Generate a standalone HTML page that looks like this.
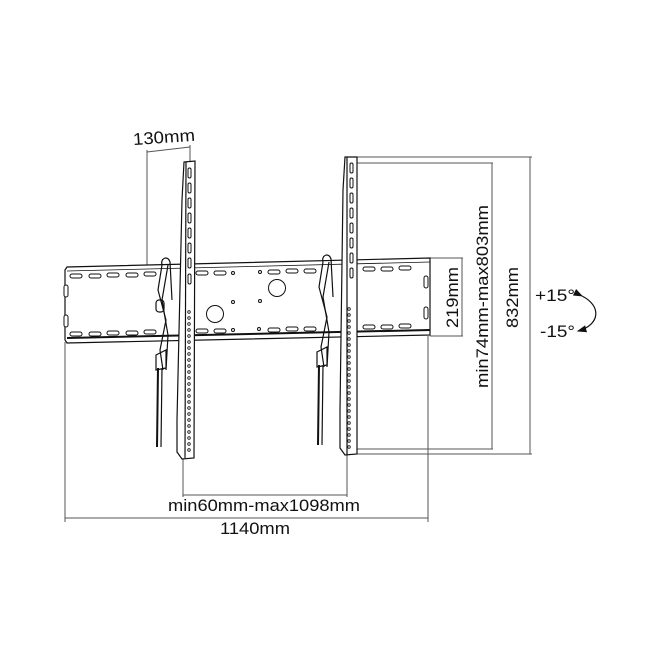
<!DOCTYPE html>
<html><head><meta charset="utf-8"><style>
html,body{margin:0;padding:0;background:#fff}
svg{display:block}
text{font-family:"Liberation Sans","DejaVu Sans",sans-serif;fill:#111}
</style></head><body>
<svg width="662" height="662" viewBox="0 0 662 662" xmlns="http://www.w3.org/2000/svg">
<defs>
<marker id="ah" markerWidth="8" markerHeight="6" refX="7" refY="3" orient="auto"><path d="M0,0 L8,3 L0,6 z" fill="#111"/></marker>
</defs>
<g stroke="#555" stroke-width="1" fill="none">
<line x1="147" y1="150" x2="147" y2="266"/>
<line x1="190" y1="145" x2="190" y2="162"/>
<line x1="147" y1="152" x2="190" y2="147"/>
<line x1="345" y1="157" x2="532" y2="157"/>
<line x1="345" y1="454" x2="532" y2="454"/>
<line x1="530" y1="157" x2="530" y2="454"/>
<line x1="357" y1="163" x2="493" y2="163"/>
<line x1="357" y1="449" x2="493" y2="449"/>
<line x1="492" y1="163" x2="492" y2="449"/>
<line x1="430" y1="258" x2="463" y2="258"/>
<line x1="430" y1="336" x2="463" y2="336"/>
<line x1="462" y1="258" x2="462" y2="336"/>
<line x1="65" y1="342" x2="65" y2="522"/>
<line x1="428" y1="336" x2="428" y2="522"/>
<line x1="65" y1="518" x2="428" y2="518"/>
<line x1="183" y1="458" x2="183" y2="497"/>
<line x1="347" y1="455" x2="347" y2="497"/>
<line x1="183" y1="495" x2="347" y2="495"/>
</g>
<g stroke="#111" stroke-width="1.2" fill="#fff">
<path d="M65,270 L67,267 L430,258 L430,335 L67,343 L65,340 z"/>
<line x1="67" y1="338" x2="430" y2="330" stroke-width="2"/>
<line x1="67" y1="271" x2="430" y2="262" stroke-width="0.8"/>
</g>
<g stroke="#111" stroke-width="1" fill="#fff">
<rect x="70" y="274" width="12" height="4" rx="2"/><rect x="89" y="274" width="12" height="4" rx="2"/><rect x="107" y="273" width="12" height="4" rx="2"/><rect x="126" y="273" width="12" height="4" rx="2"/><rect x="144" y="272" width="12" height="4" rx="2"/>
<rect x="196" y="271" width="12" height="4" rx="2"/><rect x="214" y="271" width="12" height="4" rx="2"/>
<rect x="268" y="270" width="12" height="4" rx="2"/><rect x="286" y="269" width="12" height="4" rx="2"/><rect x="304" y="269" width="12" height="4" rx="2"/>
<rect x="363" y="267" width="12" height="4" rx="2"/><rect x="381" y="267" width="12" height="4" rx="2"/><rect x="399" y="266" width="12" height="4" rx="2"/>
<rect x="70" y="332" width="12" height="4" rx="2"/><rect x="89" y="332" width="12" height="4" rx="2"/><rect x="107" y="331" width="12" height="4" rx="2"/><rect x="126" y="331" width="12" height="4" rx="2"/><rect x="144" y="330" width="12" height="4" rx="2"/>
<rect x="196" y="329" width="12" height="4" rx="2"/><rect x="214" y="329" width="12" height="4" rx="2"/>
<rect x="268" y="328" width="12" height="4" rx="2"/><rect x="286" y="327" width="12" height="4" rx="2"/><rect x="304" y="327" width="12" height="4" rx="2"/>
<rect x="363" y="325" width="12" height="4" rx="2"/><rect x="381" y="325" width="12" height="4" rx="2"/><rect x="399" y="324" width="12" height="4" rx="2"/>
<rect x="64" y="285" width="4" height="12" rx="2"/><rect x="64" y="315" width="4" height="12" rx="2"/>
<rect x="424" y="276" width="4" height="12" rx="2"/><rect x="424" y="307" width="4" height="12" rx="2"/>
<circle cx="215" cy="314" r="8.5"/><circle cx="277" cy="288" r="8.5"/>
<circle cx="233" cy="273" r="1.5"/><circle cx="260" cy="272" r="1.5"/><circle cx="233" cy="302" r="1.5"/><circle cx="260" cy="301" r="1.5"/><circle cx="233" cy="330" r="1.5"/><circle cx="259" cy="329" r="1.5"/>
</g>
<g stroke="#111" stroke-width="1.2" fill="none">
<path d="M162,265 C160,258 168,255 170,262 L172,300"/>
<path d="M162,265 L158,290 L166,320 L160,350 L163,370"/>
<path d="M168,265 L162,300 L168,335 L166,370"/>
<rect x="156" y="300" width="8" height="12" rx="3"/>
<path d="M156,355 L166,350 L166,368 L156,370 z"/>
<line x1="158" y1="368" x2="157" y2="447" stroke-width="2"/>
<line x1="162" y1="368" x2="161" y2="447"/>
<path d="M323,262 C321,255 329,252 331,259 L333,297"/>
<path d="M323,262 L319,287 L327,317 L321,347 L324,367"/>
<path d="M329,262 L323,297 L329,332 L327,367"/>
<path d="M317,352 L327,347 L327,365 L317,367 z"/>
<line x1="319" y1="365" x2="318" y2="445" stroke-width="2"/>
<line x1="323" y1="365" x2="322" y2="445"/>
</g>
<g stroke="#111" stroke-width="1.2" fill="#fff">
<path d="M184,162 L195,161 L194,458 L182,459 L177,452 L177,420 L182,200 z"/>
<line x1="186" y1="162" x2="185" y2="458"/>
<path d="M345,157 L357,157 L357,454 L345,455 L340,448 L340,410 L343,190 z"/>
<line x1="347" y1="157" x2="347" y2="455"/>
</g>
<g stroke="#111" stroke-width="1" fill="#fff">
<rect x="188" y="168" width="3" height="10" rx="1.5"/><rect x="188" y="183" width="3" height="10" rx="1.5"/><rect x="188" y="198" width="3" height="10" rx="1.5"/><rect x="188" y="213" width="3" height="10" rx="1.5"/><rect x="188" y="228" width="3" height="10" rx="1.5"/><rect x="188" y="243" width="3" height="10" rx="1.5"/><rect x="188" y="258" width="3" height="10" rx="1.5"/><rect x="188" y="274" width="3" height="10" rx="1.5"/>
<rect x="350" y="163" width="3" height="10" rx="1.5"/><rect x="350" y="178" width="3" height="10" rx="1.5"/><rect x="350" y="193" width="3" height="10" rx="1.5"/><rect x="350" y="208" width="3" height="10" rx="1.5"/><rect x="350" y="223" width="3" height="10" rx="1.5"/><rect x="350" y="238" width="3" height="10" rx="1.5"/><rect x="350" y="253" width="3" height="10" rx="1.5"/><rect x="350" y="268" width="3" height="10" rx="1.5"/>
</g>
<g stroke="#111" stroke-width="0.8" fill="#fff">
<circle cx="189" cy="312" r="1.3"/><circle cx="189" cy="318" r="1.3"/><circle cx="189" cy="324" r="1.3"/><circle cx="189" cy="330" r="1.3"/><circle cx="189" cy="336" r="1.3"/><circle cx="189" cy="342" r="1.3"/><circle cx="189" cy="348" r="1.3"/><circle cx="189" cy="354" r="1.3"/><circle cx="189" cy="360" r="1.3"/><circle cx="189" cy="366" r="1.3"/><circle cx="189" cy="372" r="1.3"/><circle cx="189" cy="378" r="1.3"/><circle cx="189" cy="384" r="1.3"/><circle cx="189" cy="390" r="1.3"/><circle cx="189" cy="396" r="1.3"/><circle cx="189" cy="402" r="1.3"/><circle cx="189" cy="408" r="1.3"/><circle cx="189" cy="414" r="1.3"/><circle cx="189" cy="420" r="1.3"/><circle cx="189" cy="426" r="1.3"/><circle cx="189" cy="432" r="1.3"/><circle cx="189" cy="438" r="1.3"/><circle cx="189" cy="444" r="1.3"/><circle cx="189" cy="450" r="1.3"/>
<circle cx="349" cy="309" r="1.3"/><circle cx="349" cy="315" r="1.3"/><circle cx="349" cy="321" r="1.3"/><circle cx="349" cy="327" r="1.3"/><circle cx="349" cy="333" r="1.3"/><circle cx="349" cy="339" r="1.3"/><circle cx="349" cy="345" r="1.3"/><circle cx="349" cy="351" r="1.3"/><circle cx="349" cy="357" r="1.3"/><circle cx="349" cy="363" r="1.3"/><circle cx="349" cy="369" r="1.3"/><circle cx="349" cy="375" r="1.3"/><circle cx="349" cy="381" r="1.3"/><circle cx="349" cy="387" r="1.3"/><circle cx="349" cy="393" r="1.3"/><circle cx="349" cy="399" r="1.3"/><circle cx="349" cy="405" r="1.3"/><circle cx="349" cy="411" r="1.3"/><circle cx="349" cy="417" r="1.3"/><circle cx="349" cy="423" r="1.3"/><circle cx="349" cy="429" r="1.3"/><circle cx="349" cy="435" r="1.3"/><circle cx="349" cy="441" r="1.3"/><circle cx="349" cy="447" r="1.3"/>
</g>
<path d="M582,296 C602,306 600,325 578,331" stroke="#111" stroke-width="1.2" fill="none" marker-start="url(#ah)" marker-end="url(#ah)"/>
<g font-size="17">
<text x="133" y="143" textLength="62" lengthAdjust="spacingAndGlyphs" transform="rotate(-4 163 138)">130mm</text>
<text x="168" y="511" textLength="192" lengthAdjust="spacingAndGlyphs">min60mm-max1098mm</text>
<text x="220" y="534" textLength="70" lengthAdjust="spacingAndGlyphs">1140mm</text>
<text x="535" y="301" textLength="40" lengthAdjust="spacingAndGlyphs">+15°</text>
<text x="540" y="337" textLength="35" lengthAdjust="spacingAndGlyphs">-15°</text>
<text transform="translate(458,328) rotate(-90)" textLength="61" lengthAdjust="spacingAndGlyphs">219mm</text>
<text transform="translate(488,388) rotate(-90)" textLength="183" lengthAdjust="spacingAndGlyphs">min74mm-max803mm</text>
<text transform="translate(518,328) rotate(-90)" textLength="61" lengthAdjust="spacingAndGlyphs">832mm</text>
</g>
</svg>
</body></html>
